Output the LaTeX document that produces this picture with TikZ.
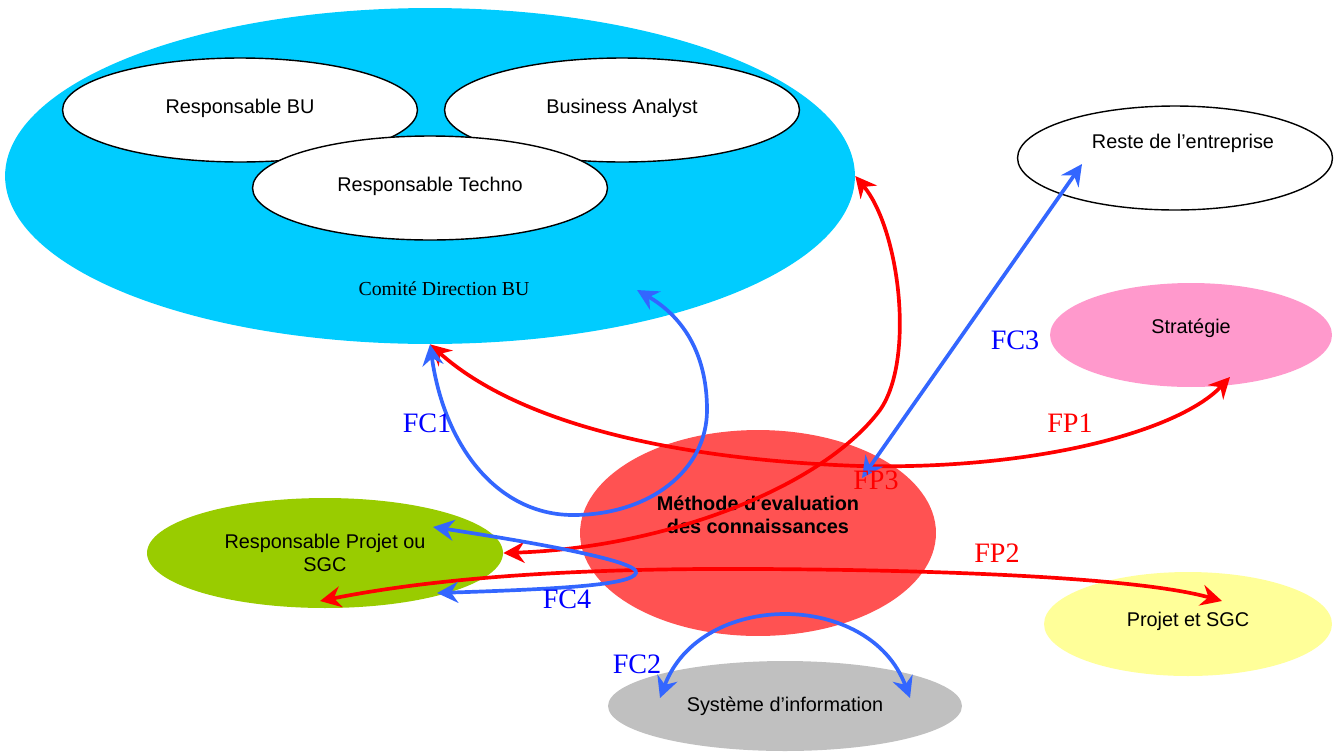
\documentclass[tikz,border=0pt]{standalone}
\usepackage{fontspec}
\setmainfont{Liberation Sans}
\newfontfamily\timesfont{Liberation Serif}
\usepackage{tikz}
\usepackage{xcolor}
\usetikzlibrary{arrows.meta,shapes.geometric}

\definecolor{cyanbu}{RGB}{0,204,255}
\definecolor{rougemeth}{RGB}{255,82,82}
\definecolor{vertrp}{RGB}{153,204,0}
\definecolor{rosestrat}{RGB}{255,153,204}
\definecolor{jauneproj}{RGB}{255,255,153}
\definecolor{grissi}{RGB}{192,192,192}
\definecolor{bleufc}{RGB}{51,102,255}
\definecolor{rougefp}{RGB}{255,0,0}

\tikzset{
    texte/.style={font=\fontsize{11.3}{13}\selectfont, align=center},
    bulle/.style={ellipse, inner sep=0pt, texte},
    contour/.style={bulle, draw, fill=white, line width=0.8pt, text depth=0.16cm},
    fleche/.style={<->, line width=2.1pt},
    fc/.style={fleche, bleufc},
    fp/.style={fleche, rougefp},
    etiq/.style={font=\timesfont\fontsize{16}{18}\selectfont},
}

\begin{document}
\begin{tikzpicture}[x=0.02cm, y=-0.02cm, >={Stealth[length=12pt,width=12pt,inset=4pt]}]
    \useasboundingbox (0,0) rectangle (1334,751);

    \node[bulle, fill=cyanbu, minimum width=17cm, minimum height=6.72cm,
        label={[texte, font=\timesfont\fontsize{11.3}{13}\selectfont, xshift=0.28cm, yshift=-2.26cm]center:Comité Direction BU}] (cdb) at (430,176) {};
    \node[contour, minimum width=7.1cm, minimum height=2.08cm] (rbu) at (240,110) {Responsable BU};
    \node[contour, minimum width=7.1cm, minimum height=2.08cm] (ba) at (622,110) {Business Analyst};
    \node[contour, minimum width=7.1cm, minimum height=2.08cm] (rt) at (430,188) {Responsable Techno};

    \node[contour, minimum width=6.3cm, minimum height=2.08cm,
        label={[texte, xshift=0.16cm, yshift=0.3cm]center:Reste de l’entreprise}] (reste) at (1175,158) {};
    \node[bulle, fill=rosestrat, minimum width=5.64cm, minimum height=2.08cm,
        label={[texte, yshift=0.14cm]center:Stratégie}] (strat) at (1191,335) {};
    \node[bulle, fill=jauneproj, minimum width=5.76cm, minimum height=2.08cm,
        label={[texte, yshift=0.06cm]center:Projet et SGC}] (proj) at (1188,624) {};

    \node[bulle, fill=rougemeth, minimum width=7.12cm, minimum height=4.12cm,
        label={[texte, font=\bfseries\fontsize{11.3}{13}\selectfont, yshift=0.36cm]center:Méthode d\textquotesingle evaluation\\des connaissances}] (meth) at (758,533) {};
    \node[bulle, fill=vertrp, minimum width=7.12cm, minimum height=2.2cm] (rps) at (325,553) {Responsable Projet ou\\SGC};
    \node[bulle, fill=grissi, minimum width=7.08cm, minimum height=1.8cm] (si) at (785,706) {Système d’information};

    \draw[fp] (cdb.south) .. controls (520,425) and (680,460) .. (860,466)
        .. controls (1040,470) and (1180,430) .. ([shift={(39,42)}]strat.center);
    \draw[fp] (rps.east) .. controls (660,548) and (820,490) .. (880,410)
        .. controls (915,360) and (900,230) .. (cdb.east);
    \draw[fp] ([shift={(-5,48)}]rps.center) .. controls (450,575) and (600,568) .. (760,569)
        .. controls (950,570) and (1140,578) .. ([shift={(34,-23)}]proj.center);

    \draw[fc] (cdb.south) .. controls (445,450) and (500,515) .. (573,515)
        .. controls (650,515) and (707,470) .. (707,410)
        .. controls (707,350) and (680,315) .. ([shift={(207,114)}]cdb.center);
    \draw[fc] ([shift={(104,-55)}]meth.center) -- ([shift={(-93,6)}]reste.center);
    \draw[fc] ([shift={(108,-26)}]rps.center) .. controls (550,545) and (640,562) .. (636,573)
        .. controls (632,585) and (560,589) .. ([shift={(112,40)}]rps.center);
    \draw[fc] ([shift={(-125,-8)}]si.center) .. controls (700,590) and (870,590) .. ([shift={(125,-8)}]si.center);

    \node[etiq, rougefp] (lfp1) at (1070,423) {FP1};
    \node[etiq, rougefp] (lfp2) at (997,553) {FP2};
    \node[etiq, rougefp] (lfp3) at (876,480) {FP3};
    \node[etiq, blue] (lfc1) at (427,423) {FC1};
    \node[etiq, blue] (lfc2) at (637,664) {FC2};
    \node[etiq, blue] (lfc3) at (1015,340) {FC3};
    \node[etiq, blue] (lfc4) at (567,599) {FC4};
\end{tikzpicture}
\end{document}
